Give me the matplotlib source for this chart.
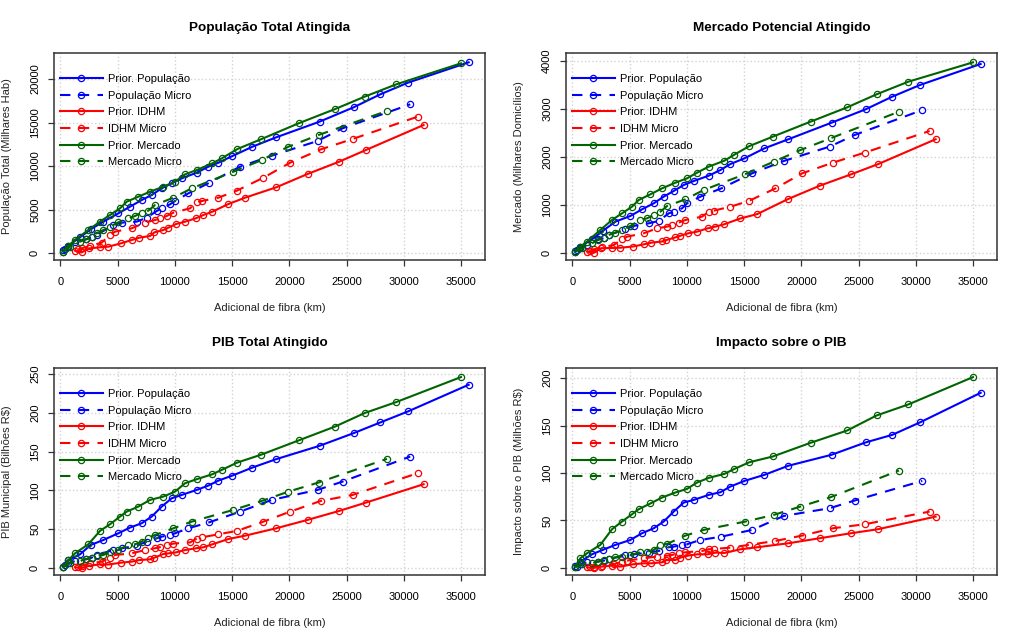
import matplotlib
matplotlib.use("Agg")
import matplotlib.pyplot as plt
from matplotlib.lines import Line2D

plt.rcParams['font.family'] = ['Liberation Sans', 'DejaVu Sans']

# fibra adicional (km) de cada estrategia
x_pop = [262, 699, 1718, 2650, 3756, 5067, 6086, 7105, 7979, 8852, 9726, 10600, 11910, 12929,
         13803, 15026, 16773, 18841, 22627, 25597, 27927, 30344, 35644]
x_pop_micro = [408, 699, 1281, 2242, 2737, 3174, 4630, 5358, 6668, 7542, 8416, 8852, 9580, 10017,
               11182, 13017, 15696, 18462, 22452, 24636, 30547]
x_idhm = [1281, 1864, 2533, 3465, 4193, 5300, 6232, 6901, 7833, 8212, 8998, 9435, 10104, 10891,
          11823, 12493, 13279, 14676, 16132, 18841, 21578, 24344, 26674, 31712]
x_idhm_micro = [1572, 1864, 2592, 3611, 4339, 4776, 6232, 7397, 8270, 8707, 9290, 9872, 11328,
                11910, 12347, 13803, 15405, 17734, 20064, 22743, 25509, 31188]
x_merc = [262, 699, 1281, 2446, 3465, 4339, 5212, 5795, 6814, 7833, 8998, 10017, 10891, 11910,
          13279, 14094, 15463, 17501, 20792, 23995, 26558, 29324, 34973]
x_merc_micro = [262, 845, 1718, 2242, 2737, 3174, 3756, 4339, 5067, 5940, 6523, 7105, 7688, 8270,
                9872, 11473, 15113, 17588, 19918, 22539, 28508]

# Populacao total (milhares hab)
pop_pop = [345, 843, 1801, 2720, 3602, 4559, 5326, 6092, 6667, 7433, 8008, 8582, 9234, 9923,
           10383, 11149, 12222, 13295, 15096, 16743, 18238, 19579, 21916]
pop_pop_micro = [421, 728, 1303, 1571, 1801, 2069, 3218, 3487, 3602, 4061, 4828, 5134, 5594, 5977,
                 6858, 8084, 9923, 11188, 12874, 14330, 17088]
pop_idhm = [268, 77, 536, 650, 728, 1111, 1494, 1762, 1954, 2375, 2644, 2912, 3333, 3601, 3985,
            4368, 4751, 5632, 6360, 7548, 9080, 10498, 11839, 14713]
pop_idhm_micro = [421, 536, 805, 1188, 2069, 2452, 2835, 3487, 3793, 3985, 4253, 4636, 5134, 5900,
                  5977, 6360, 7165, 8659, 10383, 11916, 13103, 15670]
pop_merc = [153, 800, 1494, 2644, 3602, 4368, 5134, 5900, 6475, 7050, 7625, 8199, 9042, 9540,
            10307, 10881, 11954, 13065, 14904, 16552, 17969, 19387, 21801]
pop_merc_micro = [153, 728, 1303, 1571, 1801, 2261, 2644, 3027, 3525, 3985, 4253, 4636, 4866, 5517,
                  6360, 7433, 9349, 10690, 12222, 13563, 16322]

# Mercado (milhares domicilios)
merc_pop = [49, 132, 285, 458, 653, 771, 910, 1035, 1174, 1292, 1417, 1500, 1611, 1729, 1854,
            1972, 2181, 2368, 2715, 2993, 3257, 3500, 3938]
merc_pop_micro = [63, 97, 167, 285, 306, 375, 493, 563, 618, 667, 826, 861, 931, 1035, 1174, 1347,
                  1660, 1917, 2215, 2458, 2979]
merc_idhm = [30, 5, 100, 105, 110, 135, 180, 215, 240, 270, 325, 360, 410, 445, 515, 550, 600, 720,
             810, 1125, 1400, 1640, 1850, 2370]
merc_idhm_micro = [49, 76, 118, 167, 285, 340, 410, 514, 549, 583, 632, 688, 757, 861, 882, 965,
                   1083, 1347, 1660, 1882, 2090, 2542]
merc_merc = [28, 130, 236, 479, 688, 826, 965, 1104, 1222, 1347, 1465, 1556, 1674, 1799, 1924,
             2042, 2229, 2424, 2736, 3035, 3306, 3569, 3972]
merc_merc_micro = [28, 97, 201, 271, 306, 375, 424, 479, 563, 688, 722, 792, 861, 979, 1118, 1313,
                   1646, 1903, 2146, 2389, 2944]

# PIB municipal (bilhoes R$)
pib_pop = [1.7, 10.3, 17.6, 29.7, 36.1, 44.8, 52.1, 57.7, 66.3, 79.2, 89.9, 94.2, 100.7, 106.3,
           112.7, 119.2, 129.5, 140.3, 157.5, 173.8, 187.6, 201.8, 236.2]
pib_pop_micro = [3.9, 6, 9, 11.2, 13.3, 16.8, 23.2, 25.4, 28.8, 34, 38.3, 40.4, 42.6, 44.8, 51.2,
                 59, 72.7, 87.8, 100.7, 111.4, 143.7]
pib_idhm = [1, 0, 3, 4.7, 4.5, 6.9, 8.2, 10.3, 11.2, 13.3, 18.1, 18.9, 20.2, 23.2, 25.4, 26.7,
            30.6, 37.4, 41.7, 51.2, 62, 73.6, 84.3, 108]
pib_idhm_micro = [1.7, 3, 6, 8.2, 13.3, 16.8, 18.9, 23.2, 25.5, 27, 29.7, 31.5, 33, 38, 39.5, 43.5,
                  47.8, 59.8, 72.7, 86.5, 94.2, 122.2]
pib_merc = [1.7, 10, 18.9, 30.6, 47.8, 56.4, 66.3, 72.7, 79.2, 87.8, 92.1, 98.5, 109.3, 114.5,
            120.9, 126.5, 136, 145.9, 164.4, 182.4, 199.7, 213.9, 246.1]
pib_merc_micro = [0.9, 6, 9, 11.6, 13.3, 15.5, 16.8, 20.2, 23.2, 29.7, 30.6, 34, 39.2, 42.6, 51.2,
                  59.8, 74.9, 86.5, 98.5, 110.2, 140.7]

# Impacto sobre o PIB (milhoes R$)
imp_pop = [2.5, 6.7, 14.4, 19, 24.3, 29.5, 36.6, 41.8, 48.9, 59.4, 68.9, 71.7, 77, 79.8, 85.8,
           91.7, 98.1, 107.6, 119.2, 132.2, 140.2, 153.3, 184.5]
imp_pop_micro = [1.4, 3.9, 6, 6.7, 7.7, 9.1, 13.7, 14.4, 16.2, 17.9, 21.8, 22.5, 24.3, 25, 29.5,
                 33, 40.1, 54.8, 62.9, 71, 91.7]
imp_idhm = [0.7, 0, 1.4, 2.5, 1.4, 3.9, 4.9, 4.9, 6, 8.4, 8.4, 10.9, 13, 14.4, 14.4, 16.2, 15.8,
            19.7, 21.8, 26, 31.3, 36.6, 40.8, 54.1]
imp_idhm_micro = [0.7, 1.4, 2.5, 3.9, 6.7, 7.7, 10.2, 12, 13, 13.7, 15.5, 16.5, 17.9, 19.7, 20,
                  21.4, 24.3, 28.5, 34.1, 41.8, 46, 59.4]
imp_merc = [1.4, 10.2, 15.5, 24.3, 40.8, 48.9, 56.6, 61.9, 67.9, 74.2, 79.5, 83.3, 90, 94.9, 99.1,
            104, 111.4, 117.4, 131.8, 144.8, 160.6, 172.2, 201]
imp_merc_micro = [0.7, 3.9, 4.9, 6.7, 8.4, 9.5, 11.2, 12, 13.7, 16.5, 17.2, 19, 24.3, 25.3, 34.1,
                  40.1, 48.9, 55.9, 64.7, 74.5, 102.6]

labels = ["Prior. População", "População Micro", "Prior. IDHM", "IDHM Micro",
          "Prior. Mercado", "Mercado Micro"]
xs = [x_pop, x_pop_micro, x_idhm, x_idhm_micro, x_merc, x_merc_micro]
colors = ["#0000FF", "#0000FF", "#FF0000", "#FF0000", "#006400", "#006400"]
dashed = [False, True, False, True, False, True]

panels = [
    ("População Total Atingida", "População Total (Milhares Hab)",
     [pop_pop, pop_pop_micro, pop_idhm, pop_idhm_micro, pop_merc, pop_merc_micro],
     (-805, 22990), [0, 5000, 10000, 15000, 20000]),
    ("Mercado Potencial Atingido", "Mercado (Milhares Domicílios)",
     [merc_pop, merc_pop_micro, merc_idhm, merc_idhm_micro, merc_merc, merc_merc_micro],
     (-146, 4167), [0, 1000, 2000, 3000, 4000]),
    ("PIB Total Atingido", "PIB Municipal (Bilhões R$)",
     [pib_pop, pib_pop_micro, pib_idhm, pib_idhm_micro, pib_merc, pib_merc_micro],
     (-9.0, 257.8), [0, 50, 100, 150, 200, 250]),
    ("Impacto sobre o PIB", "Impacto sobre o PIB (Milhões R$)",
     [imp_pop, imp_pop_micro, imp_idhm, imp_idhm_micro, imp_merc, imp_merc_micro],
     (-7.4, 210.6), [0, 50, 100, 150, 200]),
]

W, H = 1024, 630
fig = plt.figure(figsize=(W / 100, H / 100), dpi=100)
fs = 8

for i, (title, ylab, ys, ylim, yticks) in enumerate(panels):
    ox = 512 * (i % 2)
    oy = 315 * (i // 2)
    left, right = ox + 54, ox + 485
    top, bottom = oy + 53, oy + 260
    ax = fig.add_axes([left / W, 1 - bottom / H, (right - left) / W, (bottom - top) / H])

    handles = []
    for x, y, c, d, lab in zip(xs, ys, colors, dashed, labels):
        ls = (0, (5, 4)) if d else "-"
        ax.plot(x, y, color=c, lw=1.5, ls=ls, marker="o", ms=4.5, mfc="none", mew=0.9)
        handles.append(Line2D([], [], color=c, lw=1.5, ls=ls, marker="o", ms=4.5,
                              mfc="none", mew=0.9, label=lab))

    ax.set_xlim(-550, 37070)
    ax.set_ylim(*ylim)
    ax.set_xticks([0, 5000, 10000, 15000, 20000, 25000, 30000, 35000])
    ax.set_yticks(yticks)
    ax.grid(True, color="#D3D3D3", ls=":", lw=1)
    ax.set_axisbelow(True)
    for s in ax.spines.values():
        s.set_color("#333333")
        s.set_linewidth(1.1)
    ax.tick_params(direction="out", length=4, width=0.9, color="#333333", labelsize=fs, pad=6)
    ax.tick_params(axis="x", pad=8)
    ax.tick_params(axis="y", labelrotation=90)
    for t in ax.get_yticklabels():
        t.set_va("center")

    ax.legend(handles=handles, loc="upper left", bbox_to_anchor=(0.014, 0.899), frameon=False,
              fontsize=fs, handlelength=3.85, handletextpad=0.45, labelspacing=0.6,
              borderpad=0, borderaxespad=0, numpoints=1)

    cx = (left + right) / 2
    fig.text(cx / W, 1 - (oy + 28.3) / H, title, ha="center", va="center",
             fontsize=9.7, fontweight="bold")
    fig.text(cx / W, 1 - (oy + 308) / H, "Adicional de fibra (km)", ha="center", va="center",
             fontsize=fs, color="#222222")
    fig.text((ox + 7.5) / W, 1 - (oy + 156.5) / H, ylab, ha="center", va="center",
             rotation=90, fontsize=fs, color="#222222")

fig.savefig("out.png", dpi=100)
